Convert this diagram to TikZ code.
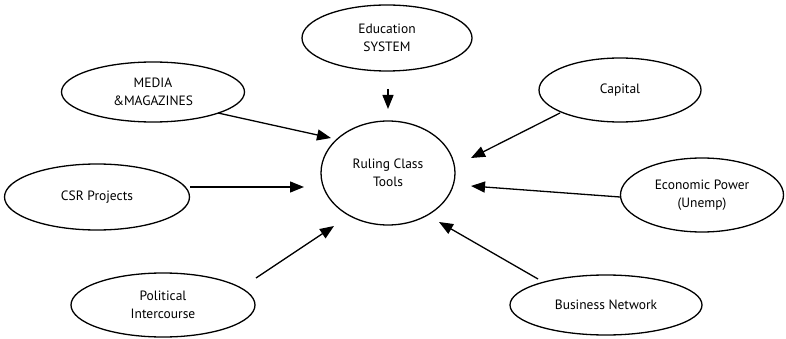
\documentclass[tikz,border=0pt]{standalone}
\usepackage{fontspec}
\setmainfont{PT Sans}
\usetikzlibrary{shapes.geometric,arrows.meta}
\begin{document}
\begin{tikzpicture}[x=1pt,y=-1pt,
  bubble/.style={ellipse,draw,line width=1.3pt,minimum width=#1,inner sep=0pt,
    font=\fontsize{13.5}{18.5}\selectfont,align=center},
  link/.style={line width=1.3pt,-{Triangle[length=14pt,width=11pt]}}]
\useasboundingbox (0,0) rectangle (786,339);
% surrounding factors
\node[bubble=170pt,minimum height=66pt] (edu) at (387,38) {Education\\SYSTEM};
\node[bubble=183pt,minimum height=60pt] (media) at (153,92) {MEDIA\\\&MAGAZINES};
\node[bubble=162pt,minimum height=64pt] (capital) at (620,90) {Capital};
\node[bubble=185pt,minimum height=66pt] (csr) at (97,197) {CSR Projects};
\node[bubble=163pt,minimum height=74pt] (econ) at (702,195) {Economic Power\\(Unemp)};
\node[bubble=184pt,minimum height=64pt] (pol) at (163,305) {Political\\Intercourse};
\node[bubble=192pt,minimum height=60pt] (biz) at (606,305) {Business Network};
% central node
\node[bubble=134pt,minimum height=104pt] (ruling) at (388,173) {Ruling Class\\Tools};
% connector ends
\coordinate (eduA) at (388,89);   \coordinate (eduB) at (388,109);
\coordinate (mediaA) at (218,113); \coordinate (mediaB) at (331,138);
\coordinate (capA) at (560,113);   \coordinate (capB) at (471,158);
\coordinate (csrA) at (190,187);   \coordinate (csrB) at (304,187);
\coordinate (econA) at (620,197);  \coordinate (econB) at (471,186);
\coordinate (polA) at (256,278);   \coordinate (polB) at (334,226);
\coordinate (bizA) at (538,279);   \coordinate (bizB) at (439,222);
\draw[link] (eduA) -- (eduB);
\draw[link] (mediaA) -- (mediaB);
\draw[link] (capA) -- (capB);
\draw[link] (csrA) -- (csrB);
\draw[link] (econA) -- (econB);
\draw[link] (polA) -- (polB);
\draw[link] (bizA) -- (bizB);
\end{tikzpicture}
\end{document}
